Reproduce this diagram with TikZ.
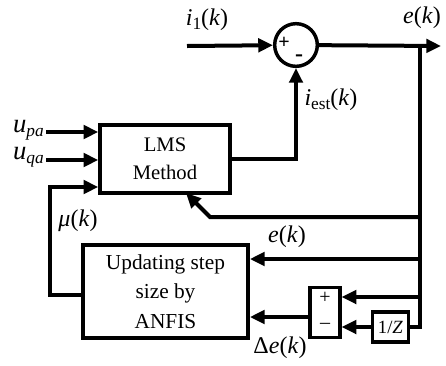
\documentclass[tikz,border=0pt]{standalone}
\usepackage{fontspec}
\setmainfont{Liberation Serif}
\usetikzlibrary{arrows.meta}
\newcommand{\vi}[1]{\textit{#1}}
\newcommand{\sbs}[1]{\raisebox{-0.3ex}{\fontsize{13}{13}\selectfont #1}}
\begin{document}
\begin{tikzpicture}[x=0.75pt,y=-0.75pt,
  wire/.style={line width=3pt},
  arr/.style={wire,-{Triangle[length=11pt,width=10pt]}},
  blk/.style={draw,line width=2.6pt,rectangle,inner sep=0pt,align=center,font=\fontsize{16}{22}\selectfont},
  lbl/.style={font=\fontsize{18}{20}\selectfont,inner sep=0pt},
  sgn/.style={font=\bfseries\fontsize{15}{15}\selectfont,inner sep=0pt}]
\useasboundingbox (0,0) rectangle (446,365);
% blocks
\node[draw,circle,line width=2.6pt,minimum size=32pt,inner sep=0pt] (sum) at (296,45) {};
\node[sgn] (splus) at (284,43) {+};
\node[sgn,font=\bfseries\fontsize{18}{18}\selectfont] (sminus) at (299,58) {-};
\node[blk,minimum width=97.5pt,minimum height=51pt,font=\fontsize{15.5}{21}\selectfont] (lms) at (165,159) {LMS\\Method};
\node[blk,minimum width=124pt,minimum height=70pt] (anfis) at (165.5,291.5) {Updating step\\size by\\ANFIS};
\node[draw,line width=2.4pt,minimum width=22.5pt,minimum height=37pt,inner sep=0pt] (sub) at (325,312.5) {};
\node[font=\fontsize{15}{15}\selectfont,inner sep=0pt] (subp) at (325,298) {+};
\node[font=\fontsize{15}{15}\selectfont,inner sep=0pt] (subm) at (325,326) {–};
\node[draw,line width=2.4pt,minimum width=27.5pt,minimum height=22.5pt,inner sep=0pt,font=\fontsize{14}{14}\selectfont] (delay) at (390.5,327) {1/\vi{Z}};
% labels
\node[lbl] (li1) at (207,20) {\vi{i}\sbs{1}(\vi{k})};
\node[lbl] (le1) at (422,18) {\vi{e}(\vi{k})};
\node[lbl] (lest) at (331,100) {\vi{i}\sbs{est}(\vi{k})};
\node[lbl,anchor=east,font=\fontsize{20}{20}\selectfont] (lupa) at (44,130) {\vi{u}\sbs{\vi{pa}}};
\node[lbl,anchor=east,font=\fontsize{20}{20}\selectfont] (luqa) at (44,157) {\vi{u}\sbs{\vi{qa}}};
\node[lbl] (lmu) at (78,221) {\vi{μ}(\vi{k})};
\node[lbl] (le2) at (287,237) {\vi{e}(\vi{k})};
\node[lbl] (lde) at (280,348) {Δ\vi{e}(\vi{k})};
% coordinates
\coordinate (in1) at (187,46);
\coordinate (out) at (441,46);
\coordinate (tap) at (420,46);
\coordinate (tapb) at (420,327);
\coordinate (f1) at (420,217);
\coordinate (f2) at (210,217);
\coordinate (lmsb) at (186,193);
\coordinate (e2) at (420,259);
\coordinate (p2) at (420,297);
\coordinate (upa) at (46,132);
\coordinate (uqa) at (46,160);
\coordinate (m1) at (50,295);
\coordinate (m2) at (50,187);
\coordinate (so) at (310,317);
% connectors
\draw[arr] (in1) -- (sum);
\draw[arr] (sum) -- (out);
\draw[wire] (tap) -- (tapb) -- (delay.east);
\draw[arr] (lms.east) -| (sum.south);
\draw[arr] (upa) -- (upa -| lms.west);
\draw[arr] (uqa) -- (uqa -| lms.west);
\draw[arr] (m1 -| anfis.west) -- (m1) -- (m2) -- (m2 -| lms.west);
\draw[arr] (f1) -- (f2) -- (lmsb);
\draw[arr] (e2) -- (e2 -| anfis.east);
\draw[arr] (p2) -- (p2 -| sub.east);
\draw[arr] (delay.west) -- (delay.west -| sub.east);
\draw[arr] (so) -- (so -| anfis.east);
\end{tikzpicture}
\end{document}
